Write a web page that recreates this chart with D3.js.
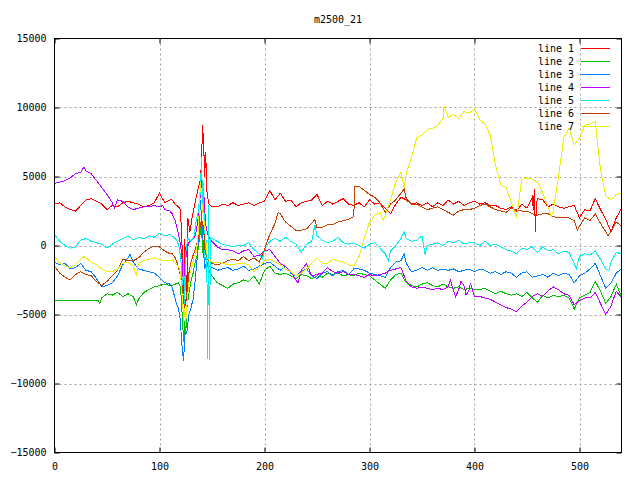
<!DOCTYPE html>
<html>
<head>
<meta charset="utf-8">
<script src="https://cdn.jsdelivr.net/npm/d3@7"></script>
<style>
  body { margin: 0; background: #fff; }
  text { font-family: "DejaVu Sans Mono", monospace; font-size: 10px; fill: #000; }
</style>
</head>
<body>
<svg id="chart" width="640" height="480"></svg>
<script>
// sample positions (shared by all lines outside the burst around x=112..150)
const xs = [
  0, 5, 10, 15, 20, 25, 30, 35, 40, 45, 50, 55, 60, 65, 70, 75, 80, 85, 90, 95, 100, 105, 110,
  155, 160, 165, 170, 175, 180, 185, 190, 195, 200, 205, 210, 215,
  220, 225, 230, 235, 240, 245, 250, 255, 260, 265, 270, 275, 280,
  285, 290, 295, 300, 305, 310, 315, 320, 325, 330, 335, 340, 345,
  350, 355, 360, 365, 370, 375, 380, 385, 390, 395, 400, 405, 410,
  415, 420, 425, 430, 435, 440, 445, 450, 455, 460, 465, 470, 475,
  480, 485, 490, 495, 500, 505, 510, 515, 520, 525, 530, 535, 540
];

const line1 = [
  3000, 3100, 2800, 2600, 2500, 2900, 3300, 3400, 3200, 3000, 2600, 2900, 2800, 3100, 3200, 3100, 3000, 2800, 2900, 3100, 3800, 3100, 3300,
  2800, 3000, 2900, 3100, 2900, 3000, 3100, 2900, 3100, 3200, 4000, 3300, 3800,
  3200, 3300, 2800, 3100, 3200, 3300, 3700, 2900, 3200, 3000, 3200, 3400, 3000,
  2900, 3100, 2800, 3300, 3000, 3100, 2700, 2300, 3000, 3500, 3300, 3000, 3100,
  2900, 3100, 2800, 3100, 2900, 3300, 3000, 3200, 2900, 3100, 3200, 3000, 3100,
  2900, 2900, 2700, 2600, 2800, 2500, 3000, 2700, 3500, 3400, 3300, 2800, 3000,
  2800, 2700, 2800, 2900, 2000, 2600, 2500, 3400, 2600, 1900, 1000, 2000, 2700
];
const line2 = [
  -4000, -4000, -4000, -4000, -4000, -4000, -4000, -4000, -4000, -3800, -3500, -3600, -3400, -3700, -3500, -3700, -3900, -3400, -3200, -3000, -2900, -2800, -2900,
  -2700, -2900, -3100, -2800, -2700, -2500, -2600, -2200, -2800, -1800, -1500, -2000, -2100,
  -2000, -2200, -2400, -2100, -2200, -2400, -2200, -2300, -2000, -2100, -2000, -2200, -2100,
  -2200, -2000, -2100, -2200, -2500, -2800, -3100, -2500, -2100, -2000, -2700, -2900, -3000,
  -2800, -2700, -2900, -3000, -2800, -3000, -3100, -3000, -3200, -3100, -3200, -3200, -3100,
  -3300, -3500, -3300, -3500, -3600, -3500, -3700, -3400, -3800, -4100, -3600, -3800, -3600,
  -3700, -3600, -3800, -4600, -3800, -3600, -3400, -2600, -3300, -4200, -3700, -2800, -3700
];
const line3 = [
  -1200, -1400, -1300, -1700, -1600, -1300, -1800, -1900, -2400, -3000, -2900, -2700, -2200, -1400, -900, -1200, -1700, -1800, -1900, -2000, -2300, -2700, -2800,
  -1800, -1700, -1600, -1800, -1700, -1500, -1800, -1700, -1500, -1300, -1200, -1500, -1800,
  -1500, -2000, -2200, -1900, -1700, -2200, -2400, -2000, -1900, -2200, -1900, -1800, -2100,
  -1700, -1700, -1800, -2000, -2100, -2200, -2300, -1600, -1200, -1100, -1300, -1900, -1800,
  -1600, -1800, -1600, -1800, -1700, -1800, -1700, -1900, -1800, -1700, -1900, -1700, -1800,
  -2000, -1900, -2100, -1900, -2000, -2300, -2000, -1900, -2300, -2200, -2100, -2300, -2000,
  -2200, -2000, -2100, -2700, -2200, -2000, -1700, -1300, -2200, -3100, -2700, -2000, -1700
];
const line4 = [
  4500, 4600, 4700, 4900, 5200, 5300, 5400, 5200, 4700, 4200, 3700, 3100, 3300, 3200, 2800, 2600, 2700, 2800, 2800, 2900, 2800, 2600, 2500,
  -100, -300, -300, -400, -600, -400, -300, -800, -700, -400, -300, -800, -1300,
  -1500, -1900, -2500, -1800, -1300, -2200, -2100, -2000, -1600, -1900, -2000, -1900, -2100,
  -2100, -2200, -2300, -2100, -2200, -2100, -2000, -1800, -1700, -1600, -2600, -3000, -3100,
  -3000, -3100, -3200, -3100, -3200, -3000, -3300, -3200, -2900, -3200, -3700, -3700, -3800,
  -3900, -4100, -4300, -4500, -4600, -4800, -4400, -4100, -3700, -3500, -3700, -3300, -3000,
  -3200, -3500, -3600, -4300, -4000, -3800, -3800, -3400, -4200, -5000, -4400, -3300, -3800
];
const line5 = [
  800, 300, 0, -200, -100, 400, 500, 300, 200, 100, -200, 100, 300, 500, 700, 400, 600, 500, 700, 600, 900, 700, 800,
  300, 100, 0, -100, 0, 0, 200, -300, -600, -300, 300, 500, 300,
  600, 300, 100, -500, 100, 300, 700, 400, 200, 300, 600, 200, 100,
  200, 0, -200, 100, 200, -200, -600, -400, 0, 500, 500, 300, 400,
  700, 0, 100, 200, 0, 300, 200, 400, 100, 200, 200, 0, 300,
  0, 100, -100, -300, -400, -600, -200, -300, -100, -500, -100, -400, -300,
  -600, -400, -500, -1300, -800, -600, -700, -400, -1000, -1700, -1200, -500, -600
];
const line6 = [
  -1500, -2000, -2300, -2500, -2100, -1900, -2100, -2200, -2600, -2900, -2600, -2200, -1800, -1000, -1100, -1100, -900, -500, -200, -50, -100, -400, -600,
  -1400, -1300, -1100, -1000, -1100, -800, -1100, -900, -1200, -300, 800, 1600, 2300,
  1700, 1400, 1100, 1100, 1200, 1600, 1300, 1300, 1500, 1500, 1700, 1800, 1900,
  2100, 4300, 4000, 3700, 3500, 3100, 2400, 3000, 3300, 3800, 3400, 3000, 3000,
  2800, 2600, 2700, 2800, 2600, 2400, 2200, 2500, 2600, 2600, 2700, 2900, 3000,
  2800, 2600, 2500, 2400, 2700, 2600, 2500, 2500, 2300, 2200, 2300, 2300, 2100,
  2000, 2000, 2000, 1800, 1400, 2000, 1800, 2300, 1600, 1000, 1000, 1700, 1400
];
const line7 = [
  -800, -1300, -1500, -1600, -1400, -1000, -900, -1200, -1400, -1700, -1900, -1900, -1700, -1300, -1200, -1500, -1300, -1100, -1000, -900, -1000, -1100, -1100,
  -1200, -1300, -1400, -1400, -1300, -1300, -1400, -1900, -1600, -1100, -1000, -1200, -1400,
  -1700, -1900, -2200, -2000, -1700, -1300, -900, -1300, -1300, -1000, -1100, -1200, -1400,
  -1500, -800, 500, 1700, 2200, 2400, 2200, 3300, 4600, 5300, 5200, 6400, 7800,
  8000, 8400, 8500, 8700, 9200, 9300, 9500, 9200, 9700, 9600, 9900, 9100, 8800,
  8000, 5800, 4400, 4200, 3200, 2000, 4800, 4900, 4800, 4600, 3800, 2800, 2500,
  5000, 7800, 8500, 7300, 7800, 8700, 8800, 9000, 5500, 3600, 3300, 3700, 3800
];

// extra [x, y] readings: the burst near x=112..150 and single spikes
const extra1 = [[112, 3300], [115, 3000], [118, 2800], [120, 2600], [122, -1000], [123, -3000], [124, 500], [125, -1500],
  [126, -4000], [127, 2000], [129, 1000], [131, 2000], [133, 2800], [135, 3500], [137, 4200], [139, 4800], [140, 6000],
  [141, 8700], [142, 7500], [143, 5000], [144, 6800], [145, 4000], [147, 3000], [150, 2800],
  [456, 2600], [457, 4100], [458, 1000], [459, 3000]];
const extra2 = [[42, -4000], [43, -4200], [78, -4300],
  [112, -2900], [115, -2800], [118, -2700], [120, -3000], [122, -5500], [123, -7000], [124, -5500], [125, -6500],
  [126, -4600], [128, -3500], [130, -2600], [132, -2000], [134, -1200], [136, -700], [138, 500], [140, 1500],
  [141, -500], [143, -800], [145, -1200], [147, -1800], [150, -2200]];
const extra3 = [[72, -650], [333, -600],
  [112, -3000], [114, -3600], [116, -4200], [118, -4500], [120, -5500], [121, -7000], [123, -8400], [124, -6500],
  [126, -6300], [128, -5000], [130, -4500], [132, -3900], [134, -2500], [136, -800], [138, 1500], [139, 3300],
  [140, 2000], [141, 1000], [143, -1700], [145, -1200], [147, -1500], [150, -1600]];
const extra4 = [[28, 5700], [57, 2700], [103, 2900], [232, -2700], [252, -2050],
  [377, -2500], [382, -3700], [387, -2600], [392, -3600], [396, -2700],
  [112, 2300], [115, 1800], [117, 1200], [119, 500], [121, -500], [122, -1500], [123, -3500], [124, -1500],
  [126, -400], [128, 200], [130, 400], [132, 500], [134, 700], [136, 1500], [138, 2700], [140, 5300],
  [141, 3000], [142, 4000], [144, 1500], [146, 800], [148, 500], [150, 300]];
const extra5 = [[198, -1000], [248, 1500], [318, -1100], [333, 1000], [353, -700], [497, -1700], [528, -1800],
  [112, 700], [115, 500], [117, 300], [119, -200], [121, -1500], [122, -3500], [123, -1000], [124, -4500],
  [125, -500], [127, 500], [130, 300], [133, 700], [135, 1800], [137, 2500], [139, 4000], [140, 6400],
  [141, 3000], [142, 4500], [143, -1000], [144, 1000], [145, -1000], [146, -8200], [146.6, 2900],
  [147.5, -8300], [148.5, 600], [150, 500]];
const extra6 = [[213, 2400], [248, 1900], [286, 4300], [333, 4100], [498, 1100], [527, 700],
  [112, -600], [115, -900], [117, -1300], [119, -1900], [121, -2500], [123, -4100], [124, -4500], [126, -3500],
  [128, -2000], [130, -1200], [132, -700], [134, -300], [136, 250], [138, 1000], [140, 1950], [142, 1250],
  [143.5, -500], [146, -1000], [149, -1200], [150, -1300]];
const extra7 = [[28, -800], [78, -2200], [313, 1800], [333, 4200], [371, 10100], [473, 2100], [518, 6800],
  [112, -1000], [115, -1300], [118, -1500], [120, -2000], [122, -4000], [123, -5500], [124, -4500], [125, -5600],
  [127, -3500], [129, -2000], [131, -1500], [133, -800], [135, -500], [137, 1000], [139, 4600], [140, 3500],
  [141, 2500], [143, 1500], [145, -500], [146, -950], [148, -1100], [150, -1200]];

const names = ["line 1", "line 2", "line 3", "line 4", "line 5", "line 6", "line 7"];
const colors = ["#ff0000", "#00c000", "#0080ff", "#c000ff", "#00eeee", "#c04000", "#eeee00"];
const xTicks = [0, 100, 200, 300, 400, 500];
const yTicks = [-15000, -10000, -5000, 0, 5000, 10000, 15000];

const plotLeft = 54.5, plotRight = 621.5, plotTop = 38.5, plotBottom = 452.5;

const svg = d3.select("#chart");
const x = d3.scaleLinear().domain([0, 540]).range([plotLeft, plotRight]);
const y = d3.scaleLinear().domain([-15000, 15000]).range([plotBottom, plotTop]);

function build(vals, extra) {
  return xs.map((xv, i) => [xv, vals[i]]).concat(extra).sort((a, b) => a[0] - b[0]);
}
const series = [
  build(line1, extra1), build(line2, extra2), build(line3, extra3), build(line4, extra4),
  build(line5, extra5), build(line6, extra6), build(line7, extra7)
];

// grid
svg.append("g").selectAll("line").data(xTicks.filter(t => t > 0)).join("line")
  .attr("x1", d => Math.round(x(d)) + 0.5).attr("x2", d => Math.round(x(d)) + 0.5)
  .attr("y1", plotTop).attr("y2", plotBottom)
  .attr("stroke", "#a0a0a0").attr("stroke-dasharray", "2,3");
svg.append("g").selectAll("line").data(yTicks.filter(t => t > -15000 && t < 15000)).join("line")
  .attr("y1", d => Math.round(y(d)) + 0.5).attr("y2", d => Math.round(y(d)) + 0.5)
  .attr("x1", plotLeft).attr("x2", plotRight)
  .attr("stroke", "#a0a0a0").attr("stroke-dasharray", "2,3");

// axes with inward ticks on all four sides
const tick = 5;
svg.append("g").attr("transform", `translate(0,${plotBottom})`)
  .call(d3.axisBottom(x).tickValues(xTicks).tickSize(-tick).tickPadding(10))
  .call(g => g.select(".domain").remove());
svg.append("g").attr("transform", `translate(0,${plotTop})`)
  .call(d3.axisTop(x).tickValues(xTicks).tickSize(-tick).tickFormat(""))
  .call(g => g.select(".domain").remove());
svg.append("g").attr("transform", `translate(${plotLeft},0)`)
  .call(d3.axisLeft(y).tickValues(yTicks).tickSize(-tick).tickPadding(8).tickFormat(d3.format("d")))
  .call(g => g.select(".domain").remove());
svg.append("g").attr("transform", `translate(${plotRight},0)`)
  .call(d3.axisRight(y).tickValues(yTicks).tickSize(-tick).tickFormat(""))
  .call(g => g.select(".domain").remove());
svg.selectAll(".tick text").style("font-family", "DejaVu Sans Mono, monospace").style("font-size", "10px");
svg.selectAll(".tick line").attr("stroke", "#000");

// data lines
const line = d3.line().x(d => x(d[0])).y(d => y(d[1]));
svg.append("g").selectAll("path").data(series).join("path")
  .attr("d", line)
  .attr("fill", "none")
  .attr("stroke", (d, i) => colors[i])
  .attr("stroke-width", 1)
  .attr("shape-rendering", "crispEdges");

// frame
svg.append("rect")
  .attr("x", plotLeft).attr("y", plotTop)
  .attr("width", plotRight - plotLeft).attr("height", plotBottom - plotTop)
  .attr("fill", "none").attr("stroke", "#000").attr("stroke-width", 1);

// legend
const key = svg.append("g");
names.forEach((n, i) => {
  const ry = 48 + i * 13;
  key.append("text").attr("x", 574).attr("y", ry + 4).attr("text-anchor", "end").text(n);
  key.append("line").attr("x1", 581).attr("x2", 610).attr("y1", ry + 0.5).attr("y2", ry + 0.5)
    .attr("stroke", colors[i]).attr("stroke-width", 1);
});

// title
svg.append("text").attr("x", 338).attr("y", 23).attr("text-anchor", "middle").text("m2500_21");
</script>
</body>
</html>
